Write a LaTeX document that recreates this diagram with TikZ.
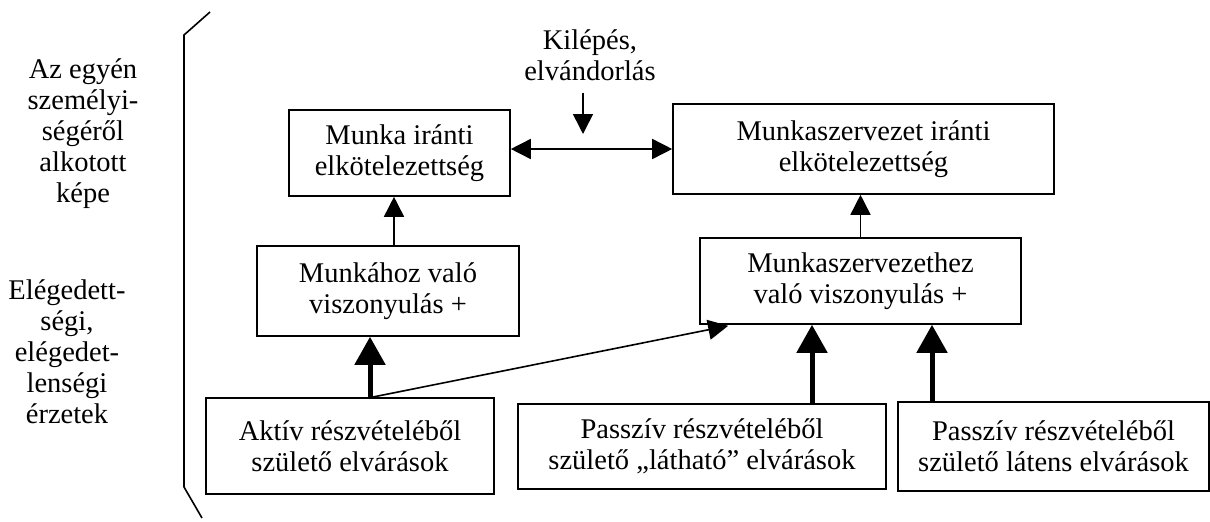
\documentclass[tikz,border=0pt]{standalone}
\usepackage{fontspec}
\setmainfont{Liberation Serif}
\usetikzlibrary{arrows.meta}

\begin{document}
\begin{tikzpicture}[
        x=1pt, y=-1pt,
        box/.style={draw, line width=1.6pt, align=center, inner sep=0pt, font=\fontsize{28.5}{31}\selectfont},
        label/.style={align=center, inner sep=0pt, font=\fontsize{28.5}{31}\selectfont},
        arrow/.style={-{Triangle[length=20pt,width=20pt]}, line width=1.6pt},
        bigarrow/.style={-{Triangle[length=28pt,width=30pt]}, line width=5pt}
    ]
        \useasboundingbox (0,0) rectangle (1210,522);

        % left column
        \node[label] (self) at (83,134) {Az egyén\\személyi-\\ségéről\\alkotott\\képe};
        \node[label] (feel) at (67,352) {Elégedett-\\ségi,\\elégedet-\\lenségi\\érzetek};
        \draw[line width=1.6pt] (210,12) -- (184,35) -- (184,487) -- (202,518);

        % commitment
        \node[box, minimum width=221pt, minimum height=86pt] (work) at (399.5,153) {Munka iránti\\elkötelezettség};
        \node[box, minimum width=381pt, minimum height=90pt] (org) at (863.5,149) {Munkaszervezet iránti\\elkötelezettség};
        \node[label] (exit) at (590,55) {Kilépés,\\elvándorlás};
        \coordinate (exittip) at (583,134);

        % attitudes
        \node[box, minimum width=262pt, minimum height=90pt] (workrel) at (388,291) {Munkához való\\viszonyulás +};
        \node[box, minimum width=321pt, minimum height=86pt] (orgrel) at (860.5,281) {Munkaszervezethez\\való viszonyulás +};

        % expectations
        \node[box, minimum width=288pt, minimum height=96pt] (active) at (350,446) {Aktív részvételéből\\születő elvárások};
        \node[box, minimum width=368pt, minimum height=85pt] (seen) at (702,446.5) {Passzív részvételéből\\születő „látható” elvárások};
        \node[box, minimum width=311pt, minimum height=89pt] (latent) at (1053.5,446.5) {Passzív részvételéből\\születő látens elvárások};

        \draw[arrow, {Triangle[length=20pt,width=20pt]}-{Triangle[length=20pt,width=20pt]}] (org.west -| work.east) -- (org.west);
        \draw[arrow] ([yshift=-12pt]exit.south -| exittip) -- (exittip);
        \draw[arrow] ([xshift=6pt]workrel.north) -- ([xshift=6pt]workrel.north |- work.south);
        \draw[arrow] (orgrel.north) -- (orgrel.north |- org.south);

        \draw[bigarrow] ([xshift=20pt]active.north) -- ([xshift=20pt]active.north |- workrel.south);
        \draw[arrow] ([xshift=22pt]active.north) -- ([xshift=29pt,yshift=-1pt]orgrel.south west);
        \draw[bigarrow] ([xshift=110pt]seen.north) -- ([xshift=110pt]seen.north |- orgrel.south);
        \draw[bigarrow] ([xshift=-121.5pt]latent.north) -- ([xshift=-121.5pt]latent.north |- orgrel.south);
    \end{tikzpicture}
\end{document}
